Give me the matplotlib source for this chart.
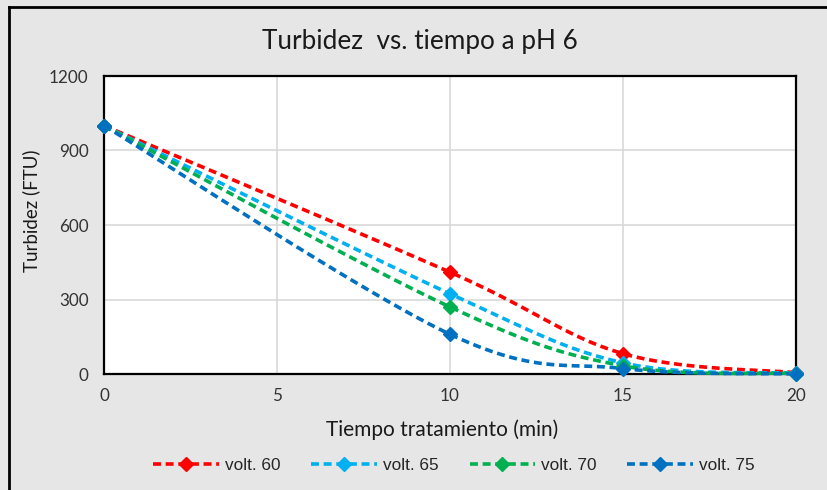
import numpy as np
import matplotlib
matplotlib.use("Agg")
import matplotlib.pyplot as plt
from matplotlib.lines import Line2D

tiempo = [0, 10, 15, 20]
volt_60 = [1000, 410, 82, 5]
volt_65 = [1000, 323, 45, 3]
volt_70 = [1000, 270, 33, 2]
volt_75 = [1000, 160, 22, 0]
series_labels = ["volt. 60", "volt. 65", "volt. 70", "volt. 75"]
colors = ["#FF0000", "#00B0F0", "#00B050", "#0070C0"]
x_ticks = [0, 5, 10, 15, 20]
y_ticks = [0, 300, 600, 900, 1200]

FONT = ["Lato", "DejaVu Sans"]


def excel_smooth(xs, ys, n=40):
    xs = np.asarray(xs, float)
    ys = np.asarray(ys, float)
    P = np.column_stack([xs, ys])
    out = []
    for i in range(len(P) - 1):
        p0 = P[i - 1] if i > 0 else P[i]
        p1 = P[i]
        p2 = P[i + 1]
        p3 = P[i + 2] if i + 2 < len(P) else P[i + 1]
        c1 = p1 + (p2 - p0) / 6.0
        c2 = p2 - (p3 - p1) / 6.0
        t = np.linspace(0, 1, n)[:, None]
        seg = ((1 - t) ** 3) * p1 + 3 * ((1 - t) ** 2) * t * c1 + 3 * (1 - t) * t ** 2 * c2 + t ** 3 * p2
        if i > 0:
            seg = seg[1:]
        out.append(seg)
    out = np.vstack(out)
    return out[:, 0], out[:, 1]


W, H = 827, 490
fig = plt.figure(figsize=(W / 100, H / 100), dpi=100)
fig.patch.set_facecolor("#E6E6E6")
ax = fig.add_axes([104 / W, 1 - 374 / H, (796 - 104) / W, (374 - 76) / H])
ax.set_facecolor("white")

handles = []
for ys, lab, c in zip([volt_60, volt_65, volt_70, volt_75], series_labels, colors):
    sx, sy = excel_smooth(tiempo, ys)
    ax.plot(sx, sy, color=c, lw=2.6, dashes=(2.2, 1.3), zorder=3, clip_on=False,
            solid_capstyle="butt", dash_capstyle="butt")
    ax.plot(tiempo, ys, linestyle="none", marker="D", markersize=7.5, color=c,
            markeredgecolor=c, zorder=4, clip_on=False)
    handles.append(Line2D([0], [0], color=c, lw=2.6, dashes=(2.2, 1.3), marker="D",
                          markersize=7.5, markeredgecolor=c))

ax.set_xlim(0, 20)
ax.set_ylim(0, 1200)
ax.set_xticks(x_ticks)
ax.set_yticks(y_ticks)
ax.grid(True, color="#D9D9D9", lw=1.2, zorder=0)
ax.set_axisbelow(True)
for s in ax.spines.values():
    s.set_color("black")
    s.set_linewidth(1.6)
ax.tick_params(axis="y", length=0, pad=11, labelsize=12.3, colors="#333333")
ax.tick_params(axis="x", length=0, pad=10, labelsize=12.3, colors="#333333")
for lbl in ax.get_xticklabels() + ax.get_yticklabels():
    lbl.set_family(FONT)

fig.text(442 / W, 1 - 430 / H, "Tiempo tratamiento (min)", ha="center", va="center",
         fontsize=15, family=FONT, color="#1a1a1a")
fig.text(31 / W, 1 - 211 / H, "Turbidez (FTU)", ha="center", va="center", rotation=90,
         fontsize=13.5, family=FONT, color="#1a1a1a")
fig.text(420 / W, 1 - 42 / H, "Turbidez  vs. tiempo a pH 6",
         ha="center", va="center", fontsize=18.8, family=FONT, color="#1a1a1a")

leg = fig.legend(handles, series_labels, loc="center", bbox_to_anchor=(454 / W, 1 - 465 / H),
                 ncol=4, frameon=False, handlelength=3.8, columnspacing=1.8, handletextpad=0.35,
                 prop={"family": ["Liberation Sans", "DejaVu Sans"], "size": 12.4})
for t in leg.get_texts():
    t.set_color("#262626")

# figure border (left and top edges)
fig.add_artist(Line2D([9 / W, 9 / W], [0, 1 - 7 / H], transform=fig.transFigure, color="black", lw=2))
fig.add_artist(Line2D([9 / W, 1], [1 - 7 / H, 1 - 7 / H], transform=fig.transFigure, color="black", lw=2))

fig.savefig("out.png", dpi=100, facecolor=fig.get_facecolor())
